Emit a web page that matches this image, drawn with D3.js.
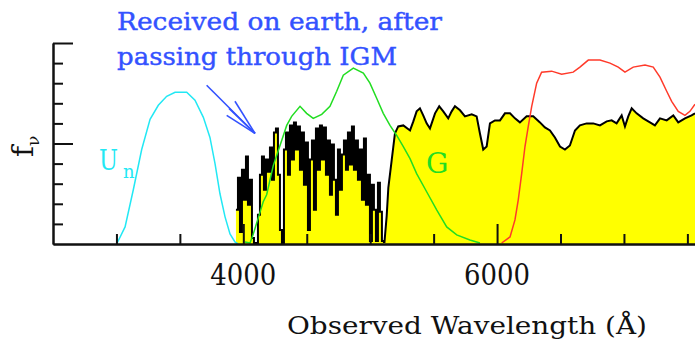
<!DOCTYPE html>
<html>
<head>
<meta charset="utf-8">
<script src="https://cdn.jsdelivr.net/npm/d3@7"></script>
<style>
  body { margin: 0; background: #fff; }
  svg { display: block; }
</style>
</head>
<body>
<svg id="chart" width="695" height="342"></svg>
<script>
// filter curves (observed wavelength in Angstrom, flux in plot units 0..2)
const unWave = [3002,3068,3133,3199,3265,3330,3396,3462,3554,3619,3685,3737,3777,3816,3856,3895,3934,3958];
const unFlux = [0,0.17,0.54,0.94,1.24,1.38,1.47,1.51,1.51,1.43,1.26,1.06,0.80,0.50,0.27,0.10,0.02,0];

const gWave = [4013,4053,4076,4118,4157,4184,4236,4263,4342,4381,4447,4499,4551,4618,4683,4736,4788,4867,4946,4998,5051,5103,5156,5209,5261,5314,5366,5445,5524,5603,5682,5786,5865];
const gFlux = [0.02,0.01,0.09,0.26,0.42,0.49,0.78,0.88,1.18,1.27,1.37,1.30,1.25,1.29,1.37,1.52,1.68,1.75,1.70,1.60,1.45,1.30,1.18,1.08,0.97,0.85,0.70,0.52,0.34,0.17,0.09,0.04,0.01];

const rWave = [6036,6102,6141,6167,6194,6220,6246,6273,6312,6351,6430,6509,6600,6653,6719,6811,6890,6955,7008,7073,7166,7231,7284,7337,7376,7428,7481,7520,7560];
const rFlux = [0.01,0.07,0.24,0.44,0.70,0.97,1.17,1.37,1.60,1.71,1.72,1.69,1.71,1.76,1.83,1.83,1.80,1.76,1.71,1.76,1.78,1.76,1.66,1.52,1.42,1.32,1.28,1.32,1.39];

// Lyman forest part of the galaxy spectrum, sampled on a regular grid
const forestStart = 3942;
const forestStep = 15.76;
const forestFlux = [0.34,0.66,0.12,0.74,0.44,0.87,0.39,0.64,0.06,0.01,
  0.01,0.29,0.69,0.87,0.54,0.84,0.72,0.96,0.64,1.11,
  1.15,0.69,0.14,0.01,0.94,1.11,0.69,1.18,0.84,1.21,
  0.94,1.17,0.74,1.11,0.59,1.01,0.14,0.84,1.03,0.34,
  1.15,0.74,1.18,0.84,1.16,0.69,1.03,0.49,0.99,0.64,
  0.29,0.94,0.54,0.89,1.03,0.74,1.11,0.79,1.17,0.74,
  1.03,0.64,0.94,0.44,1.05,0.39,0.69,0.03,0.59,0.34,
  0.03,0.61,0.32,0.03,0.01];

// redward continuum
const contWave = [5112,5130,5143,5169,5195,5221,5261,5314,5340,5366,5392,5418,5445,5471,5511,5544,5576,5615,5642,5668,5708,5747,5800,5839,5865,5891,5918,5944,5983,6023,6062,6102,6141,6180,6233,6285,6338,6377,6417,6456,6496,6535,6574,6614,6653,6706,6758,6811,6864,6903,6942,6982,7008,7034,7061,7100,7152,7205,7244,7284,7337,7389,7428,7481,7533,7560];
const contFlux = [0.01,0.28,0.56,0.83,1.10,1.17,1.18,1.13,1.22,1.32,1.35,1.28,1.20,1.15,1.30,1.37,1.32,1.25,1.32,1.37,1.33,1.27,1.29,1.27,1.10,0.94,0.97,1.20,1.23,1.23,1.30,1.30,1.25,1.21,1.27,1.27,1.21,1.16,1.13,1.06,0.97,0.94,0.98,1.13,1.18,1.20,1.20,1.18,1.22,1.23,1.20,1.28,1.17,1.27,1.35,1.30,1.25,1.21,1.18,1.25,1.23,1.28,1.21,1.25,1.28,1.30];

const xTicks = [3000,3500,4000,4500,5000,5500,6000,6500,7000,7500];
const xLabels = [4000,6000];
const yTicks = [0.2,0.4,0.6,0.8,1.2,1.4,1.6,1.8];
const yMajor = [1,2];

// arrow annotation, in data units
const arrowTail = [3711,1.58];
const arrowTip = [4092,1.10];
const arrowBarbs = [[3934,1.42],[3887,1.35],[3869,1.28]];

const svg = d3.select("#chart");
const x = d3.scaleLinear().domain([2500, 7560]).range([53, 695]);
const y = d3.scaleLinear().domain([0, 2]).range([244, 43]);

const zip = (w, f) => w.map((d, i) => [d, f[i]]);
const forest = forestFlux.map((f, i) => [forestStart + i * forestStep, f]);
const cont = zip(contWave, contFlux);

svg.append("rect").attr("width", 695).attr("height", 342).attr("fill", "#fff");

// spectrum: yellow fill with black outline
function drawSpec(data, curve) {
  svg.append("path").datum(data)
    .attr("fill", "#ffff00")
    .attr("d", d3.area().x(d => x(d[0])).y0(y(0)).y1(d => y(d[1])).curve(curve));
  svg.append("path").datum(data)
    .attr("fill", "none").attr("stroke", "#000").attr("stroke-width", 2)
    .attr("d", d3.line().x(d => x(d[0])).y(d => y(d[1])).curve(curve));
}
drawSpec(forest, d3.curveStepAfter);
drawSpec(cont, d3.curveLinear);

// filter curves
const line = d3.line().x(d => x(d[0])).y(d => y(d[1]));
[[zip(unWave, unFlux), "#22e8f4"], [zip(gWave, gFlux), "#22dd22"], [zip(rWave, rFlux), "#ff3a2a"]]
  .forEach(([data, col]) => {
    svg.append("path").datum(data)
      .attr("fill", "none").attr("stroke", col).attr("stroke-width", 1.5)
      .attr("d", line);
  });

// axes, ticks pointing inward
svg.append("g").attr("transform", `translate(0,${y(0)})`)
  .call(d3.axisTop(x).tickValues(xTicks.filter(t => !xLabels.includes(t))).tickSize(10).tickSizeOuter(0).tickFormat(""));
svg.append("g").attr("transform", `translate(0,${y(0)})`)
  .call(d3.axisTop(x).tickValues(xLabels).tickSize(20).tickSizeOuter(0).tickFormat(""));
svg.append("g").attr("transform", `translate(${x(2500)},0)`)
  .call(d3.axisRight(y).tickValues(yTicks).tickSize(10).tickSizeOuter(0).tickFormat(""));
svg.append("g").attr("transform", `translate(${x(2500)},0)`)
  .call(d3.axisRight(y).tickValues(yMajor).tickSize(20).tickSizeOuter(0).tickFormat(""));
svg.selectAll(".domain, .tick line").attr("stroke", "#111").attr("stroke-width", 2);

const font = "'DejaVu Serif', serif";

// x tick labels
svg.selectAll(".xlab").data(xLabels).enter().append("text")
  .attr("x", d => x(d)).attr("y", 285)
  .attr("text-anchor", "middle")
  .attr("font-family", font).attr("font-size", 30).attr("fill", "#111")
  .attr("textLength", 66).attr("lengthAdjust", "spacingAndGlyphs")
  .text(d => d);

svg.append("text").attr("x", 287).attr("y", 334)
  .attr("font-family", font).attr("font-size", 25).attr("fill", "#111")
  .attr("textLength", 360).attr("lengthAdjust", "spacingAndGlyphs")
  .text("Observed Wavelength (Å)");

// y label f_nu
const yl = svg.append("text").attr("transform", "translate(33,157) rotate(-90)")
  .attr("font-family", font).attr("font-size", 30).attr("fill", "#111");
yl.append("tspan").text("f");
yl.append("tspan").attr("font-size", 17).attr("dy", 6).text("ν");

// blue annotation
const blue = "#3352ff";
svg.append("text").attr("x", 117).attr("y", 30)
  .attr("font-family", font).attr("font-size", 24).attr("fill", blue)
  .attr("stroke", blue).attr("stroke-width", 0.4)
  .attr("textLength", 325).attr("lengthAdjust", "spacingAndGlyphs")
  .text("Received on earth, after");
svg.append("text").attr("x", 117).attr("y", 65)
  .attr("font-family", font).attr("font-size", 24).attr("fill", blue)
  .attr("stroke", blue).attr("stroke-width", 0.4)
  .attr("textLength", 280).attr("lengthAdjust", "spacingAndGlyphs")
  .text("passing through IGM");

[arrowTail].concat(arrowBarbs).forEach(p => {
  svg.append("line")
    .attr("x1", x(p[0])).attr("y1", y(p[1]))
    .attr("x2", x(arrowTip[0])).attr("y2", y(arrowTip[1]))
    .attr("stroke", blue).attr("stroke-width", 1.6);
});

// filter names
svg.append("text").attr("x", 99).attr("y", 170)
  .attr("font-family", font).attr("font-size", 28).attr("fill", "#22e8f4")
  .attr("textLength", 19).attr("lengthAdjust", "spacingAndGlyphs")
  .text("U");
svg.append("text").attr("x", 123).attr("y", 178)
  .attr("font-family", font).attr("font-size", 18).attr("fill", "#22e8f4")
  .text("n");

svg.append("text").attr("x", 426).attr("y", 173)
  .attr("font-family", font).attr("font-size", 28).attr("fill", "#22dd22")
  .text("G");
</script>
</body>
</html>
